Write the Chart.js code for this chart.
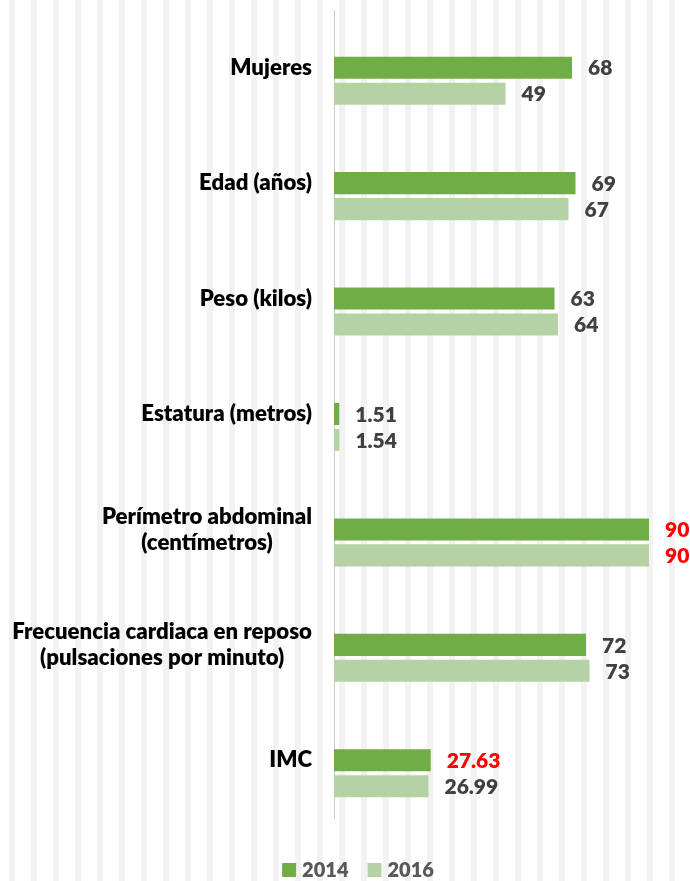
<!DOCTYPE html>
<html>
<head>
<meta charset="utf-8">
<script src="https://cdn.jsdelivr.net/npm/chart.js@4.4.1/dist/chart.umd.min.js"></script>
<style>
  html, body { margin: 0; padding: 0; background: #fff; }
  /* light vertical stripes behind the whole chart */
  #wrap {
    width: 690px; height: 881px;
    background: repeating-linear-gradient(to right, #fff 0 9px, #f2f2f2 9px 15px, #fff 15px 22px);
  }
</style>
</head>
<body>
<div id="wrap"><canvas id="chart" width="690" height="881"></canvas></div>
<script>
// data
const categories = [
    ['Mujeres'],
    ['Edad (años)'],
    ['Peso (kilos)'],
    ['Estatura (metros)'],
    ['Perímetro abdominal', '(centímetros)'],
    ['Frecuencia cardiaca en reposo', '(pulsaciones por minuto)'],
    ['IMC']
];
const years = ['2014', '2016'];
const values2014 = [68, 69, 63, 1.51, 90, 72, 27.63];
const values2016 = [49, 67, 64, 1.54, 90, 73, 26.99];

// which value labels are printed in red
const redLabels = { '2014': [4, 6], '2016': [4] };

const CAT_FONT = '800 22.2px Lato';
const VAL_FONT = '800 21px Lato';
const LEG_FONT = '800 20px Lato';

// value labels, category labels and legend
const labelPlugin = {
    id: 'labelPlugin',
    afterDatasetsDraw(chart) {
        const ctx = chart.ctx;
        const area = chart.chartArea;
        ctx.save();
        ctx.textBaseline = 'middle';

        // value labels next to each bar
        ctx.font = VAL_FONT;
        ctx.textAlign = 'left';
        chart.data.datasets.forEach((ds, di) => {
            if (!ds.label) return;
            chart.getDatasetMeta(di).data.forEach((bar, i) => {
                const red = (redLabels[ds.label] || []).includes(i);
                ctx.fillStyle = red ? '#FF0000' : '#404040';
                ctx.fillText(String(ds.data[i]), bar.x + 16, bar.y + 1);
            });
        });

        // category labels, lines centred on each other, block right aligned
        const yScale = chart.scales.y;
        ctx.font = CAT_FONT;
        ctx.fillStyle = '#000000';
        ctx.textAlign = 'center';
        categories.forEach((lines, i) => {
            const cy = yScale.getPixelForTick(i);
            const w = Math.max(...lines.map(l => ctx.measureText(l).width));
            const cx = area.left - 22 - w / 2;
            lines.forEach((l, k) => {
                ctx.fillText(l, cx, cy + (k - (lines.length - 1) / 2) * 26);
            });
        });

        // legend
        ctx.font = LEG_FONT;
        const items = chart.data.datasets.filter(ds => ds.label);
        const widths = items.map(ds => 20 + ctx.measureText(ds.label).width);
        const total = widths.reduce((a, b) => a + b, 0) + 19 * (items.length - 1);
        let x = 358 - total / 2;
        const ly = 870;
        ctx.textAlign = 'left';
        items.forEach((ds, i) => {
            ctx.fillStyle = ds.backgroundColor;
            ctx.fillRect(x, ly - 7, 14, 14);
            ctx.fillStyle = '#595959';
            ctx.fillText(ds.label, x + 20, ly + 1);
            x += widths[i] + 19;
        });
        ctx.restore();
    }
};

Promise.all([CAT_FONT, VAL_FONT, LEG_FONT].map(f => document.fonts.load(f))).then(() => {
    new Chart(document.getElementById('chart'), {
        type: 'bar',
        data: {
            labels: categories,
            datasets: [
                { label: '', data: categories.map(() => null), backgroundColor: 'rgba(0,0,0,0)' },
                { label: years[0], data: values2014, backgroundColor: '#70AD47' },
                { label: years[1], data: values2016, backgroundColor: '#B5D2A5' }
            ]
        },
        options: {
            indexAxis: 'y',
            responsive: false,
            animation: false,
            barPercentage: 0.85,
            categoryPercentage: 0.675,
            layout: { padding: { top: 10, right: 6, bottom: 63, left: 0 } },
            plugins: {
                legend: { display: false },
                tooltip: { enabled: false }
            },
            scales: {
                x: {
                    display: false,
                    min: 0,
                    max: 100
                },
                y: {
                    ticks: { display: false },
                    grid: { display: false },
                    border: { display: true, color: '#C8C8C8', width: 1 },
                    afterFit(scale) { scale.width = 334; }
                }
            }
        },
        plugins: [labelPlugin]
    });
});
</script>
</body>
</html>
